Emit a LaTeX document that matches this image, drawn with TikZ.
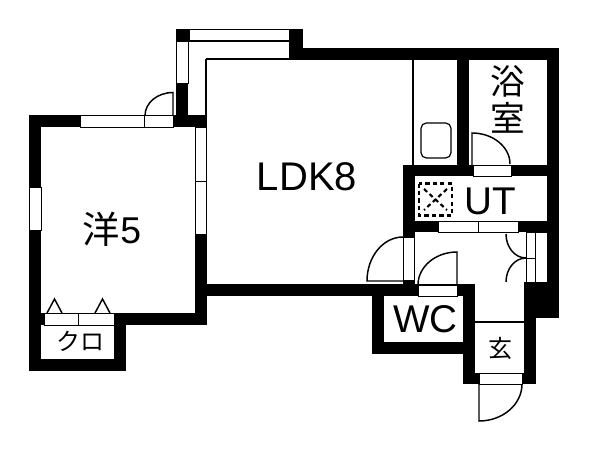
\documentclass[tikz,border=0pt]{standalone}
\usepackage{fontspec}
\setmainfont{Liberation Sans}
\newfontfamily\cjk{Noto Sans CJK JP}[Scale=1]
\tikzset{
  x=0.75pt,y=-0.75pt,
  wall/.style={fill=black,draw=none},
  pane/.style={fill=white,draw=black,line width=0.75pt},
  thin/.style={draw=black,line width=0.9pt},
  swing/.style={draw=black,line width=1.1pt},
  vent/.style={draw=black,line width=1.6pt,dash pattern=on 3.2pt off 2.4pt},
  lbl/.style={inner sep=0pt,outer sep=0pt,text=black}
}
\begin{document}
\begin{tikzpicture}
\useasboundingbox (0,0) rectangle (600,450);
\fill[white] (0,0) rectangle (600,450);
% walls
\fill[wall] (29,115) rectangle (126,127);
\fill[wall] (173,115) rectangle (207,127);
\fill[wall] (29,115) rectangle (41,371);
\fill[wall] (41,313) rectangle (44,325);
\fill[wall] (29,359) rectangle (126,371);
\fill[wall] (114,313) rectangle (126,371);
\fill[wall] (114,313) rectangle (207,325);
\fill[wall] (195,127) rectangle (207,325);
\fill[wall] (207,284) rectangle (475,296);
\fill[wall] (176,29) rectangle (189,41);
\fill[wall] (176,83) rectangle (188,127);
\fill[wall] (289,29) rectangle (303,59);
\fill[wall] (289,48) rectangle (559,60);
\fill[wall] (457,48) rectangle (469,176);
\fill[wall] (547,48) rectangle (559,318);
\fill[wall] (403,165) rectangle (559,176);
\fill[wall] (403,165) rectangle (415,237);
\fill[wall] (403,221) rectangle (559,232);
\fill[wall] (372,284) rectangle (384,354);
\fill[wall] (372,342) rectangle (475,354);
\fill[wall] (463,284) rectangle (475,384);
\fill[wall] (463,373) rectangle (536,384);
\fill[wall] (524,282) rectangle (536,384);
\fill[wall] (524,282) rectangle (559,318);
\fill[wall] (403,237) rectangle (415,284);
% windows and panes
\draw[pane] (80,115.5) rectangle (144,127);
\draw[pane] (144,115.5) rectangle (173,127);
\draw[pane] (29.5,187) rectangle (41,230);
\draw[pane] (195,127) rectangle (206.5,181);
\draw[pane] (195,181) rectangle (206.5,234);
\draw[pane] (176.5,41) rectangle (188,83);
\draw[pane] (189,29.5) rectangle (289,41);
\draw[pane] (44,313) rectangle (78,325);
\draw[pane] (78,313) rectangle (114,325);
\draw[pane] (403.5,237) rectangle (414.5,280);
\draw[pane] (473,165) rectangle (511,176);
\draw[pane] (438,221) rectangle (478,232);
\draw[pane] (478,221) rectangle (518,232);
\draw[pane] (418,285) rectangle (457,296);
\draw[pane] (526,232.5) rectangle (535.5,258);
\draw[pane] (526,258) rectangle (535.5,282);
\draw[pane] (535.5,232.5) rectangle (547,282);
\draw[pane] (479,373) rectangle (522,384);
% balcony and room lines
\draw[thin] (188,41) -- (289,41);
\draw[thin] (206,59) -- (289,59);
\draw[thin] (206,59) -- (206,115);
\draw[thin] (413,60) -- (413,165);
\draw[thin] (475,322) -- (524,322);
\draw[thin,rounded corners=4pt] (421,123) rectangle (451,158);
% door swings
\draw[swing] (173,115) -- (173,92.5) arc[start angle=-90,end angle=-180,x radius=28,y radius=23];
\draw[swing] (472,165) -- (472,133) arc[start angle=-90,end angle=0,x radius=38,y radius=31];
\draw[swing] (403,237) arc[start angle=-90,end angle=-180,x radius=36,y radius=44] -- (403,281);
\draw[swing] (457,285) -- (457,252) arc[start angle=-90,end angle=-180,x radius=39,y radius=33];
\draw[swing] (526,258) arc[start angle=90,end angle=180,x radius=20,y radius=24];
\draw[swing] (526,258) arc[start angle=-90,end angle=-180,x radius=20,y radius=24];
\draw[swing] (479,384) -- (479,421) arc[start angle=90,end angle=0,x radius=43,y radius=37];
% ventilation mark
\draw[vent] (419,183.5) rectangle (452,215.5);
\draw[vent] (424,189) -- (447,210) (447,189) -- (424,210);
% labels
\node[lbl,font=\fontsize{30pt}{30pt}\selectfont] (ldk) at (307,177) {LDK8};
\node[lbl,font=\fontsize{29pt}{29pt}\selectfont] (ut) at (490,201) {UT};
\node[lbl,font=\fontsize{29pt}{29pt}\selectfont] (wc) at (425.5,319) {WC};
\node[lbl,font=\fontsize{28pt}{28pt}\selectfont] (yo) at (112,229) {{\cjk 洋}5};
\node[lbl,font=\fontsize{26pt}{26pt}\selectfont\cjk] (yoku) at (508,81) {浴};
\node[lbl,font=\fontsize{26pt}{26pt}\selectfont\cjk] (shitsu) at (508,117.5) {室};
\node[lbl,font=\fontsize{18pt}{18pt}\selectfont\cjk] (kuro) at (80,341) {クロ};
\node[lbl,font=\fontsize{18pt}{18pt}\selectfont\cjk] (gen) at (500,348) {玄};
\foreach \a in {47,95} \draw[swing] (\a,313) -- ++(7.5,-14) -- ++(7.5,14);
\end{tikzpicture}
\end{document}
